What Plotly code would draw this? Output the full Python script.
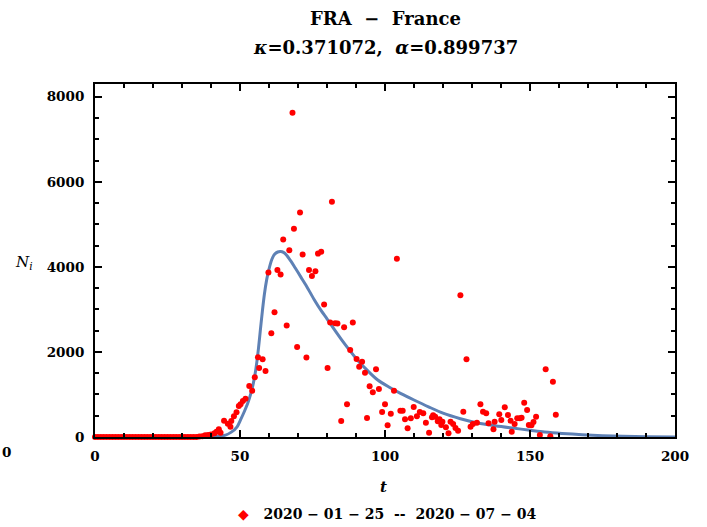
import plotly.graph_objects as go

# Daily new cases N_i against day index t (France, 2020-01-25 .. 2020-07-04)
t_days = list(range(0, 41)) + [
    41.2, 41.9, 42.7, 43.3, 44.5, 45.8, 46.7, 47.0, 47.9, 48.8, 49.6, 50.2, 51.0, 51.9,
    53.2, 54.2, 55.1, 56.2, 56.6, 57.8, 58.8, 59.8, 60.8, 61.9, 62.9, 64.0, 64.9, 66.1,
    67.0, 68.1, 68.6, 69.7, 70.7, 71.6, 72.9, 73.8, 74.8, 76.0, 76.9, 78.0, 79.0, 80.2,
    81.1, 81.7, 82.8, 83.6, 84.9, 85.9, 86.9, 88.0, 88.9, 90.2, 91.1, 92.1, 93.1, 93.8,
    94.7, 95.8, 96.9, 97.9, 99.0, 100.0, 100.9, 102.0, 103.1, 104.1, 105.3, 106.1, 106.9,
    107.8, 108.9, 109.9, 111.0, 112.0, 113.2, 114.1, 115.2, 116.2, 116.6, 117.3, 118.2,
    118.8, 119.4, 119.8, 121.0, 121.9, 122.6, 123.5, 124.3, 125.2, 126.0, 127.0, 128.1,
    129.5, 130.3, 131.7, 132.9, 133.8, 134.9, 135.7, 137.4, 137.8, 139.4, 140.1, 141.3,
    142.4, 143.3, 143.7, 144.7, 145.6, 146.5, 147.1, 148.0, 149.0, 149.6, 150.5, 151.2,
    152.1, 153.4, 155.4, 157.0, 157.9, 158.9,
]
new_cases = [
    0, 0, 0, 0, 0, 0, 0, 0, 0, 0, 0, 0, 0, 0, 0, 0, 0, 0, 0, 0,
    0, 0, 0, 0, 0, 0, 0, 0, 0, 0, 0, 0, 0, 0, 0, 0, 10, 20, 40, 45, 60,
    87, 125, 181, 101, 384, 313, 242, 376, 487, 581, 729, 769, 847, 901,
    1200, 1090, 1404, 1875, 1624, 1828, 1553, 3866, 2439, 2934, 3929, 3819, 4643, 2620,
    4392, 7624, 4894, 2118, 5278, 4290, 1867, 3929, 3788, 3898, 4313, 4353, 3114, 1624,
    2690, 5529, 2675, 2666, 376, 2581, 769, 2047, 2690, 1835, 1654, 1772, 1513, 447,
    1192, 1051, 1593, 1129, 588, 769, 275, 549, 1090, 4190, 619, 619, 416,
    205, 443, 706, 487, 590, 557, 337, 98, 463, 510, 478, 369,
    416, 282, 361, 228, 86, 361, 306, 212, 149, 3333, 596, 1830,
    243, 306, 337, 769, 596, 557, 322, 180, 361, 533, 400, 698,
    518, 384, 125, 306, 439, 439, 454, 808, 635, 282, 275, 353,
    478, 47, 1592, 20, 1302, 525,
]

# Fitted model curve (kappa = 0.371072, alpha = 0.899737), sampled along t
fit_t = [0, 30, 38, 42, 45, 47, 49, 50.3, 51.5, 52.6, 53.6, 54.5, 55.2, 55.8, 56.4, 57.0,
         57.7, 58.4, 59.2, 60.0, 61.0, 62.0, 63.0, 64.0, 65.0, 66.0, 67.5, 69.0, 71.0,
         73.0, 75.5, 78.0, 80.0, 82.5, 85.0, 88.0, 90.6, 94.0, 97.5, 101.5, 105.5, 110.0,
         115.0, 120.0, 126.0, 132.0, 138.0, 144.0, 150.0, 155.0, 161.0, 168.0, 175.0,
         182.0, 190.0, 200.0]
fit_n = [0, 0, 2, 12, 45, 115, 240, 420, 600, 780, 990, 1230, 1480, 1760, 2100, 2500,
         2950, 3350, 3700, 3950, 4180, 4300, 4350, 4360, 4340, 4280, 4140, 3980, 3760,
         3540, 3240, 2970, 2780, 2530, 2290, 2020, 1800, 1560, 1340, 1170, 1020, 870,
         710, 560, 430, 330, 265, 210, 160, 120, 85, 55, 30, 16, 6, 1]

x_ticks = [0, 50, 100, 150, 200]
y_ticks = [0, 2000, 4000, 6000, 8000]

SERIF = "DejaVu Serif"
tick_font = dict(family=SERIF, size=13.5, color="black", weight="bold")

fig = go.Figure()

fig.add_trace(go.Scatter(
    x=fit_t, y=fit_n, mode="lines",
    line=dict(color="#5E81B5", width=3, shape="spline", smoothing=0.8),
    hoverinfo="skip", showlegend=False,
))

fig.add_trace(go.Scatter(
    x=t_days, y=new_cases, mode="markers",
    marker=dict(color="#FF0000", size=6, line=dict(width=0)),
    cliponaxis=False, showlegend=False,
))

axis_common = dict(
    showgrid=False, zeroline=False,
    showline=True, linecolor="black", linewidth=2, mirror="allticks",
    ticks="inside", ticklen=7, tickwidth=2, tickcolor="black",
    tickfont=tick_font,
)

fig.update_xaxes(
    range=[0, 200], tickvals=x_ticks, ticktext=[str(v) for v in x_ticks],
    ticklabelstandoff=6,
    minor=dict(dtick=10, ticks="inside", ticklen=4, tickwidth=1.5, tickcolor="black"),
    **axis_common,
)
fig.update_yaxes(
    range=[0, 8300], tickvals=y_ticks, ticktext=[str(v) for v in y_ticks],
    ticklabelstandoff=6,
    minor=dict(dtick=500, ticks="inside", ticklen=4, tickwidth=1.5, tickcolor="black"),
    **axis_common,
)

PLOT_L, PLOT_R, PLOT_T, PLOT_B = 95, 675, 84, 437


def px(x):
    return (x - PLOT_L) / (PLOT_R - PLOT_L)


def py(y):
    return (PLOT_B - y) / (PLOT_B - PLOT_T)


annotations = [
    dict(text="FRA  \u2212  France", x=px(385), y=py(18),
         font=dict(family=SERIF, size=18, color="black", weight="bold")),
    dict(text="<i>\u03ba</i>=0.371072,  <i>\u03b1</i>=0.899737", x=px(386), y=py(47),
         font=dict(family=SERIF, size=18, color="black", weight="bold")),
    dict(text="<i>t</i>", x=px(383), y=py(487),
         font=dict(family=SERIF, size=15, color="black", weight="bold")),
    dict(text="<i>N</i><sub><i>i</i></sub>", x=px(23), y=py(262),
         font=dict(family=SERIF, size=15, color="black")),
    dict(text='<span style="color:#FF0000">\u25c6</span>   2020 \u2212 01 \u2212 25  --  2020 \u2212 07 \u2212 04',
         x=px(387), y=py(514),
         font=dict(family=SERIF, size=14, color="black", weight="bold")),
    dict(text="0", x=px(6), y=py(452),
         font=dict(family=SERIF, size=13.5, color="black", weight="bold")),
]
for a in annotations:
    a.update(xref="paper", yref="paper", showarrow=False,
             xanchor="center", yanchor="middle")

fig.update_layout(
    width=707, height=527,
    margin=dict(l=PLOT_L, r=707 - PLOT_R, t=PLOT_T, b=527 - PLOT_B),
    paper_bgcolor="white", plot_bgcolor="white",
    annotations=annotations,
    showlegend=False,
)

fig.write_html("out.html")
